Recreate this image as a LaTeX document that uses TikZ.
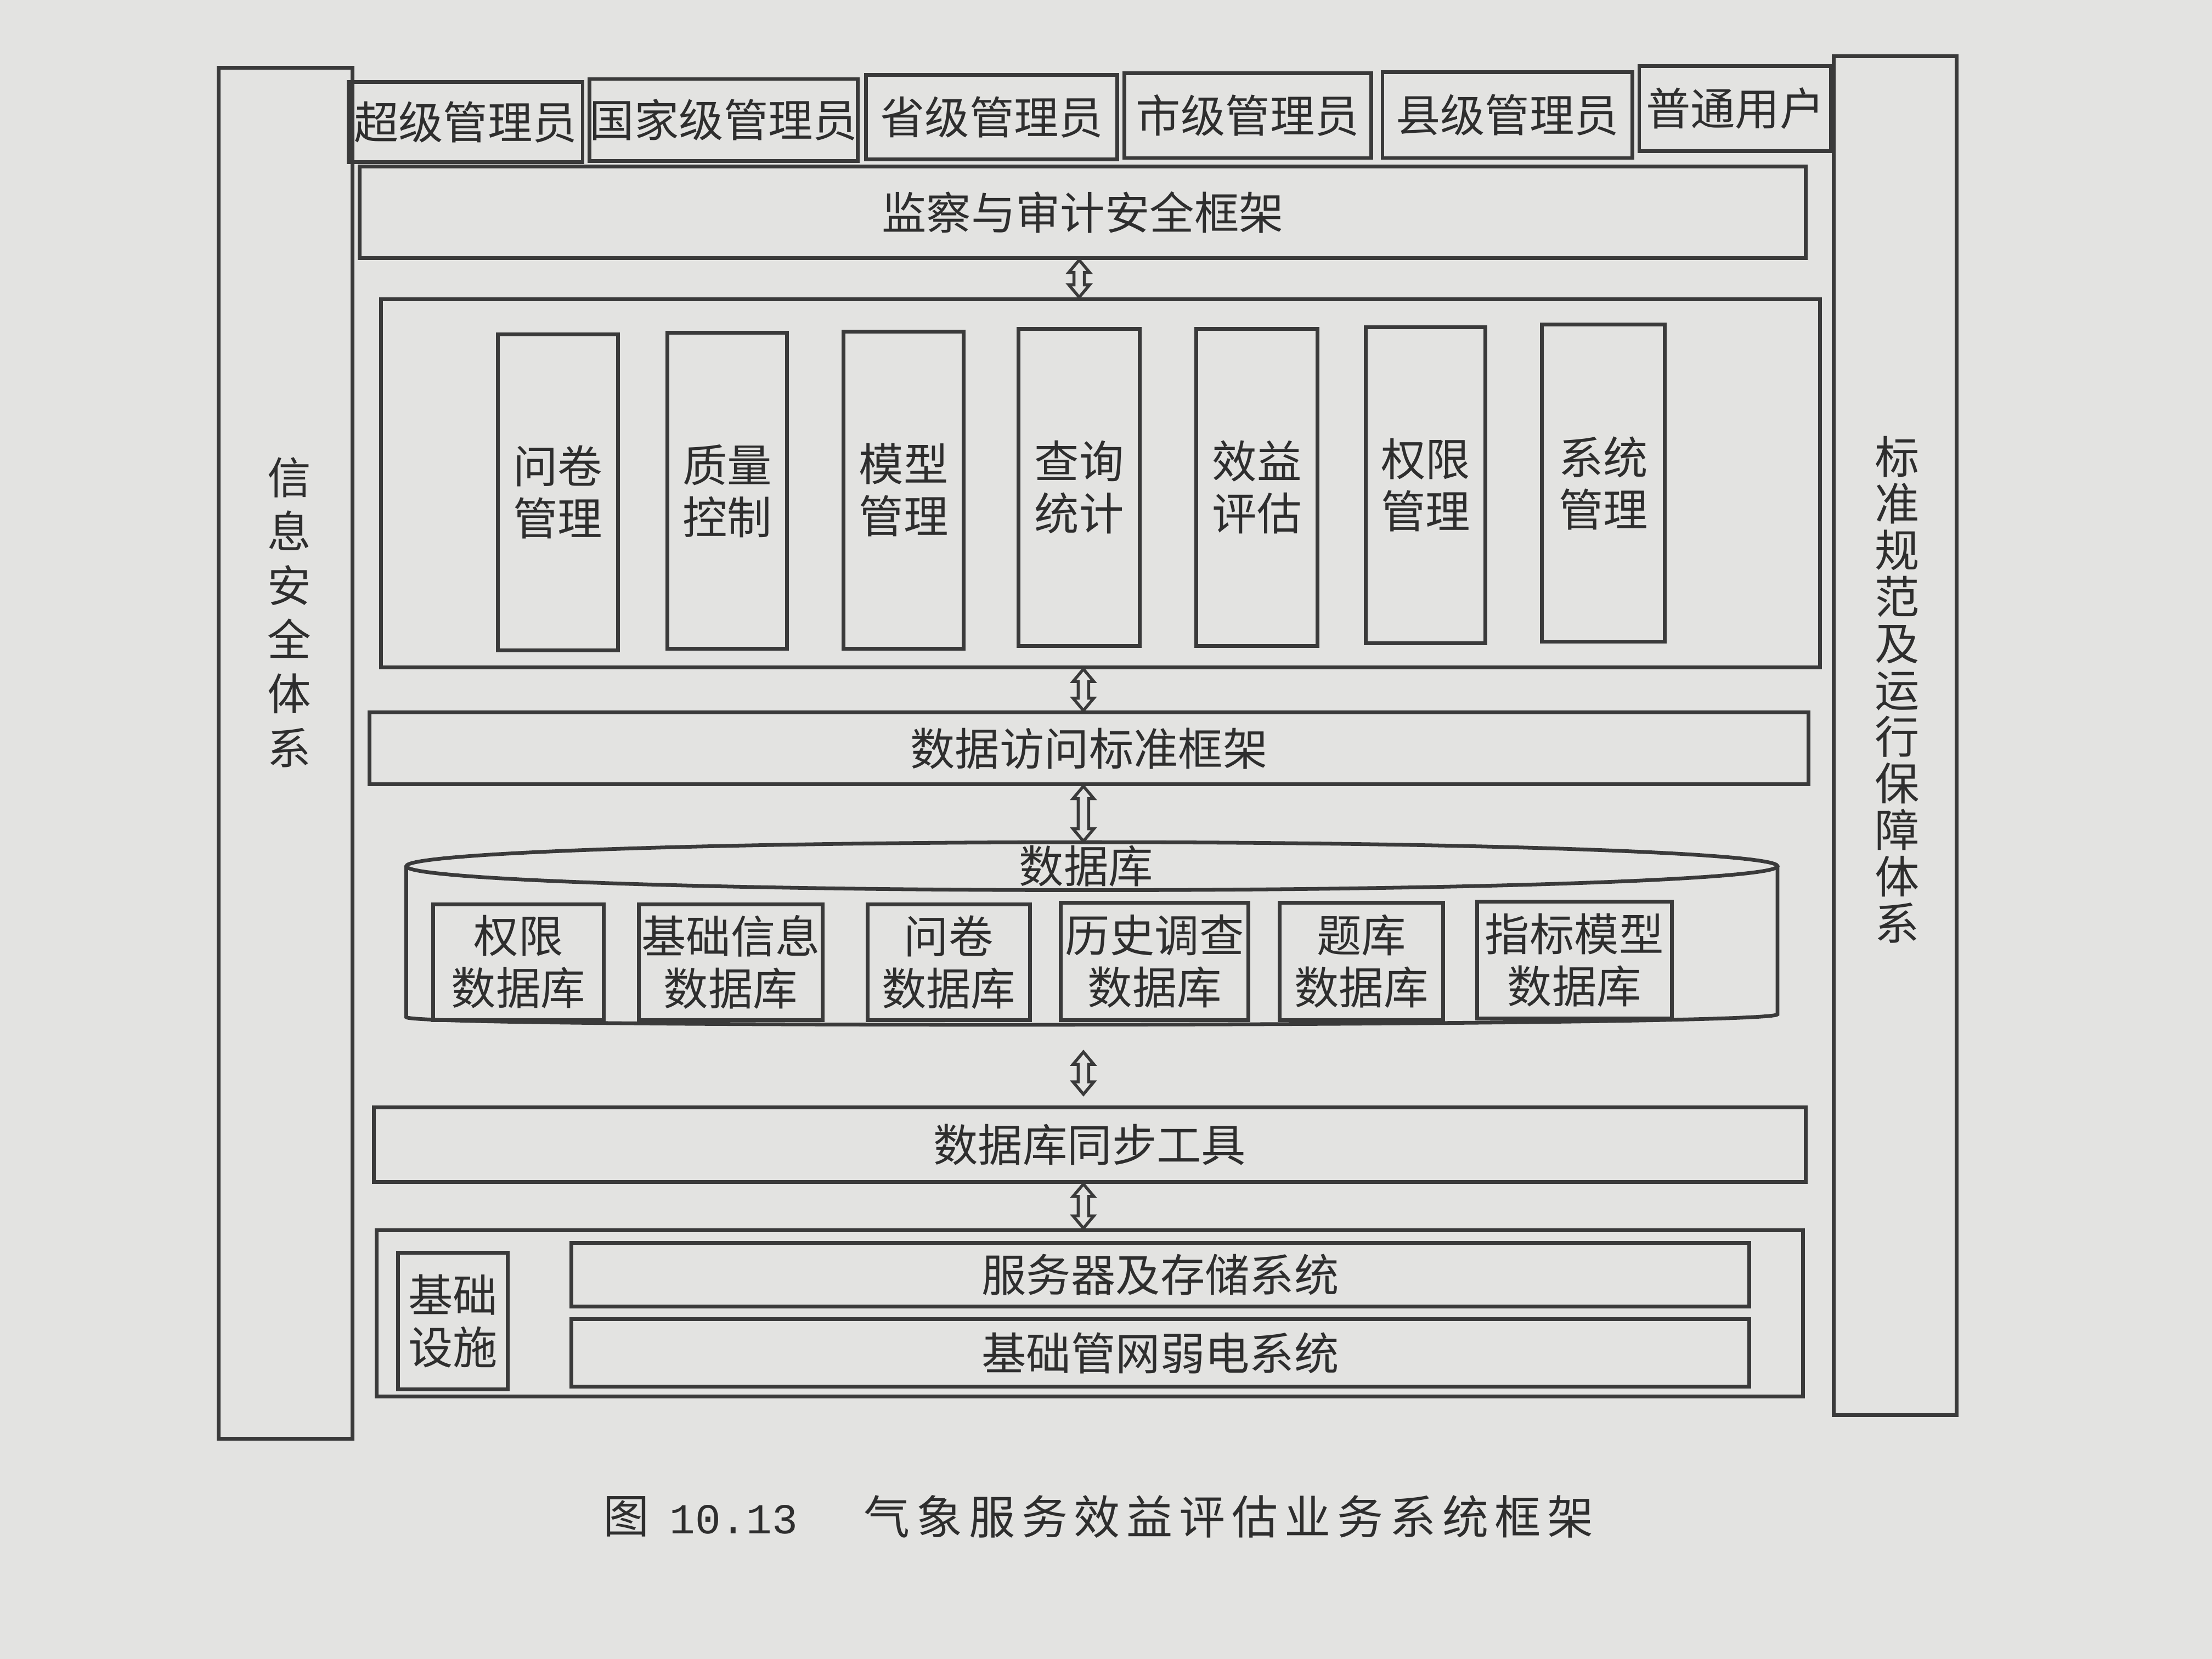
\documentclass[tikz,border=0pt]{standalone}
\usepackage{fontspec}
\setmainfont{Noto Sans CJK SC}
\newfontfamily\monof{Liberation Mono}
\usetikzlibrary{fit,calc}
\definecolor{paper}{HTML}{E3E3E1}
\definecolor{ink}{HTML}{3A3A3A}
\definecolor{txtc}{HTML}{2E2E2E}
\tikzset{
  ln/.style={draw=ink, line width=0.75pt},
  bx/.style={ln, inner sep=0pt, fit={#1}},
  txt/.style={text=txtc, inner sep=0pt, align=center, font=\fontsize{9}{10.5}\selectfont},
  blockarrow/.style={draw=ink, line width=0.6pt, line join=miter,
    to path={let \p1=(\tikztostart), \p2=(\tikztotarget) in
      (\x1,\y1) -- (\x1+2.1pt,\y1-2.5pt) -- (\x1+1.05pt,\y1-2.5pt) -- (\x1+1.05pt,\y2+2.5pt)
      -- (\x1+2.1pt,\y2+2.5pt) -- (\x1,\y2) -- (\x1-2.1pt,\y2+2.5pt) -- (\x1-1.05pt,\y2+2.5pt)
      -- (\x1-1.05pt,\y1-2.5pt) -- (\x1-2.1pt,\y1-2.5pt) -- cycle}},
}
\newcommand{\tbox}[4]{\node[bx={#2 #3}] (#1) {}; \node[txt] (#1t) at (#1.center) {#4};}
\begin{document}
\begin{tikzpicture}[x=0.01cm, y=-0.01cm]
\useasboundingbox (0,0) rectangle (1568,1176);
\fill[paper] (0,0) rectangle (1568,1176);

% side frames
\node[bx={(155,48) (250,1020)}] (left) {};
\node[txt, font=\fontsize{8.8}{10.9}\selectfont] (lefttxt) at (205,434) {信\\息\\安\\全\\体\\系};
\node[bx={(1300,40) (1387,1003)}] (right) {};
\node[txt, font=\fontsize{9}{9.4}\selectfont] (righttxt) at (1345,489) {标\\准\\规\\范\\及\\运\\行\\保\\障\\体\\系};

% users
\tbox{u1}{(247,58)}{(413,115)}{超级管理员}
\tbox{u2}{(418,56)}{(608,114)}{国家级管理员}
\tbox{u3}{(614,53)}{(792,113)}{省级管理员}
\tbox{u4}{(797,52)}{(972,112)}{市级管理员}
\tbox{u5}{(980,51)}{(1157,112)}{县级管理员}
\tbox{u6}{(1162,47)}{(1298,107)}{普通用户}

% audit
\tbox{audit}{(255,118)}{(1280,183)}{监察与审计安全框架}

% application layer
\node[bx={(270,212) (1290,473)}] (app) {};
\tbox{c1}{(353,237)}{(438,461)}{问卷\\管理}
\tbox{c2}{(473,236)}{(558,460)}{质量\\控制}
\tbox{c3}{(598,235)}{(683,460)}{模型\\管理}
\tbox{c4}{(722,233)}{(808,458)}{查询\\统计}
\tbox{c5}{(848,233)}{(934,458)}{效益\\评估}
\tbox{c6}{(968,232)}{(1053,456)}{权限\\管理}
\tbox{c7}{(1093,230)}{(1180,455)}{系统\\管理}

% data access
\tbox{access}{(262,505)}{(1282,556)}{数据访问标准框架}

% database cylinder
\node[inner sep=0pt, fit={(288,597) (1260,727)}] (db) {};
\draw[ln] (774,614) ellipse [x radius=486, y radius=17];
\draw[ln] (288,614) -- (288,721) .. controls (288,729) and (1260,728) .. (1260,719) -- (1260,614);
\node[txt] (dbtitle) at (770,614) {数据库};
\tbox{d1}{(307,641)}{(428,723)}{权限\\数据库}
\tbox{d2}{(453,641)}{(583,723)}{基础信息\\数据库}
\tbox{d3}{(615,641)}{(730,723)}{问卷\\数据库}
\tbox{d4}{(752,640)}{(885,723)}{历史调查\\数据库}
\tbox{d5}{(907,640)}{(1023,723)}{题库\\数据库}
\tbox{d6}{(1047,639)}{(1185,722)}{指标模型\\数据库}

% sync
\tbox{sync}{(265,785)}{(1280,838)}{数据库同步工具}

% infrastructure
\node[bx={(267,872) (1278,990)}] (infra) {};
\tbox{base}{(282,888)}{(360,985)}{基础\\设施}
\tbox{server}{(405,881)}{(1240,926)}{服务器及存储系统}
\tbox{net}{(405,935)}{(1240,983)}{基础管网弱电系统}

% arrows
\coordinate (dbout) at ([xshift=-0.06cm,yshift=-0.18cm]db.south);
\coordinate (syncin) at ([yshift=0.08cm]sync.north);
\draw[blockarrow] ([xshift=-0.025cm]audit.south) to ([xshift=-0.025cm]audit.south |- app.north);
\draw[blockarrow] ([xshift=-0.12cm]app.south) to ([xshift=-0.12cm]app.south |- access.north);
\draw[blockarrow] ([xshift=-0.04cm]access.south) to ([xshift=-0.04cm]access.south |- db.north);
\draw[blockarrow] (dbout) to (dbout |- syncin);
\draw[blockarrow] ([xshift=-0.045cm]sync.south) to ([xshift=-0.045cm]sync.south |- infra.north);

% caption
\node[txt, font=\fontsize{9.3}{11}\selectfont] (capfig) at (444,1075) {图};
\node[txt, font=\monof\fontsize{8.6}{11}\selectfont] (capnum) at (520,1077) {10.13};
\node[txt, font=\fontsize{9.3}{11}\selectfont\addfontfeature{LetterSpace=14}] (captitle) at (871,1075) {气象服务效益评估业务系统框架};
\end{tikzpicture}
\end{document}
